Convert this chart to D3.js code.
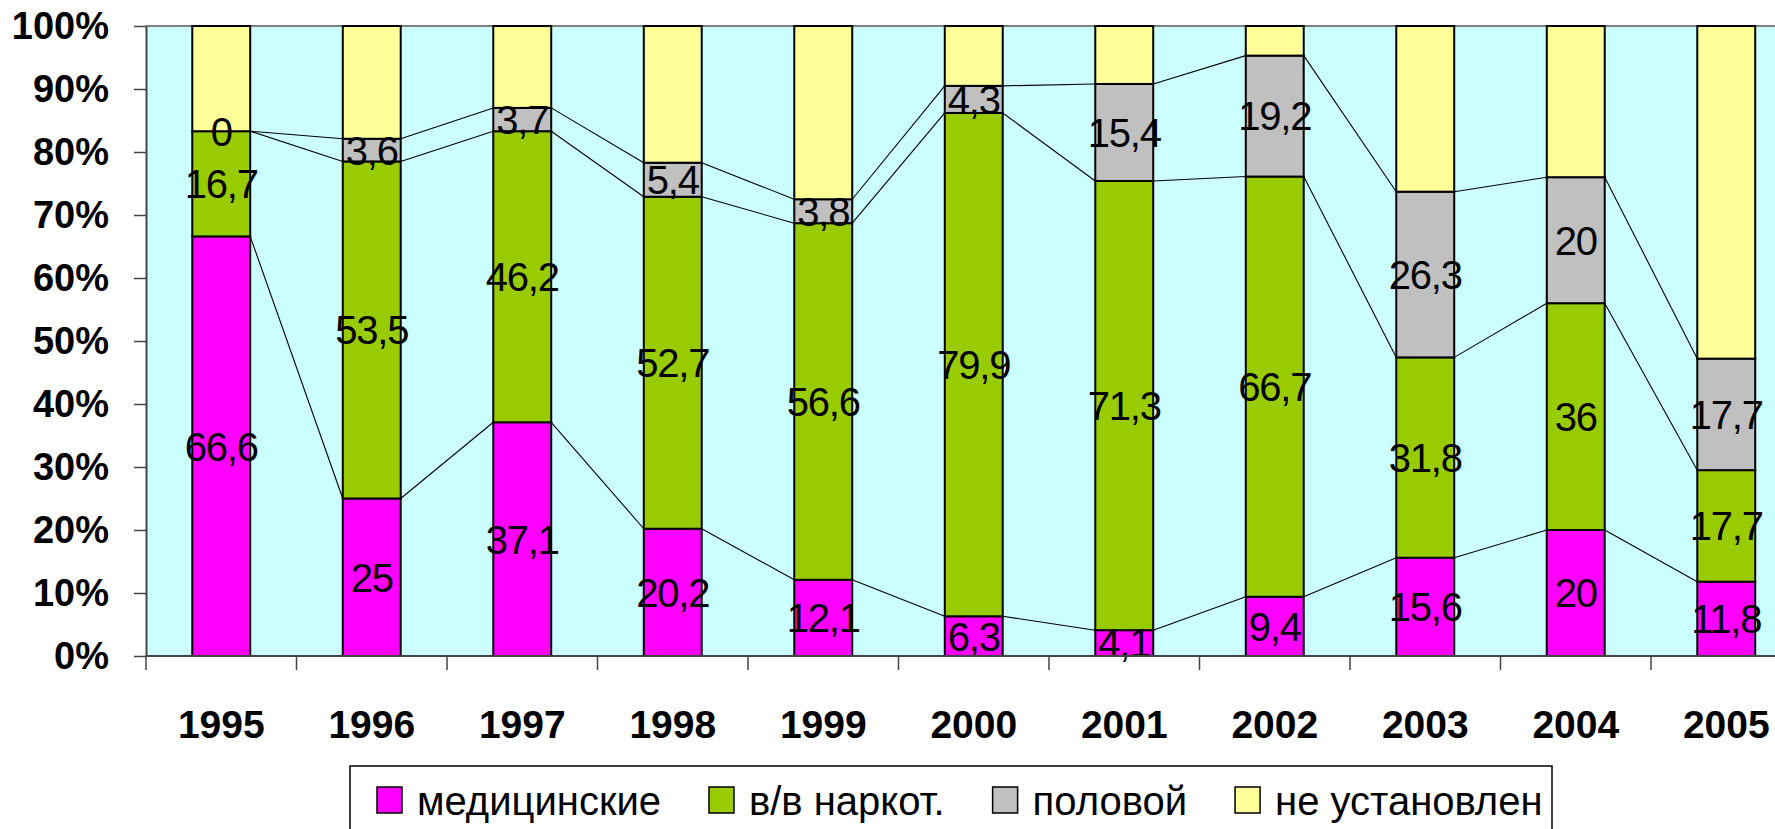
<!DOCTYPE html>
<html>
<head>
<meta charset="utf-8">
<script src="https://cdn.jsdelivr.net/npm/d3@7"></script>
<style>
  html, body { margin: 0; padding: 0; background: #ffffff; overflow: hidden; }
  svg { display: block; font-family: "Liberation Sans", Arial, sans-serif; }
</style>
</head>
<body>
<svg id="chart" width="1775" height="829"></svg>
<script>
// ---- data ----
const categories = ["1995","1996","1997","1998","1999","2000","2001","2002","2003","2004","2005"];
const seriesNames = ["медицинские","в/в наркот.","половой","не установлен"];
const medical = [66.6, 25, 37.1, 20.2, 12.1, 6.3, 4.1, 9.4, 15.6, 20, 11.8];
const ivDrugs = [16.7, 53.5, 46.2, 52.7, 56.6, 79.9, 71.3, 66.7, 31.8, 36, 17.7];
const sexual  = [0, 3.6, 3.7, 5.4, 3.8, 4.3, 15.4, 19.2, 26.3, 20, 17.7];
const unknown = [16.7, 17.9, 13.0, 21.7, 27.5, 9.5, 9.2, 4.7, 26.3, 24, 52.8];
const labelledSeries = [true, true, true, false];
const yTickValues = [0, 0.1, 0.2, 0.3, 0.4, 0.5, 0.6, 0.7, 0.8, 0.9, 1.0];
const colors = ["#FF00FF", "#99CC00", "#C0C0C0", "#FFFF99"];

// ---- layout ----
const W = 1775, H = 829;
const plotLeft = 146, plotTop = 26, plotBottom = 656;
const step = 150.5;

const svg = d3.select("#chart");

const table = categories.map((c, i) => ({
  cat: c, s0: medical[i], s1: ivDrugs[i], s2: sexual[i], s3: unknown[i]
}));
const keys = ["s0", "s1", "s2", "s3"];
const stacked = d3.stack().keys(keys).offset(d3.stackOffsetExpand)(table);

const x = d3.scaleBand()
  .domain(categories)
  .range([plotLeft, plotLeft + step * categories.length])
  .paddingInner(0.615)
  .paddingOuter(0.3075);

const y = d3.scaleLinear().domain([0, 1]).range([plotBottom, plotTop]);

// plot background
svg.append("rect")
  .attr("x", plotLeft).attr("y", plotTop)
  .attr("width", W - plotLeft + 10).attr("height", plotBottom - plotTop)
  .attr("fill", "#CCFFFF");

// top border
svg.append("line")
  .attr("x1", plotLeft).attr("x2", W)
  .attr("y1", plotTop).attr("y2", plotTop)
  .attr("stroke", "#808080").attr("stroke-width", 2);

// series lines (connecting segment tops between neighbouring bars)
const bw = x.bandwidth();
stacked.slice(0, 3).forEach(layer => {
  for (let i = 0; i < categories.length - 1; i++) {
    svg.append("line")
      .attr("x1", x(categories[i]) + bw)
      .attr("y1", y(layer[i][1]))
      .attr("x2", x(categories[i + 1]))
      .attr("y2", y(layer[i + 1][1]))
      .attr("stroke", "#000").attr("stroke-width", 1.1);
  }
});

// bars
const gBars = svg.append("g");
stacked.forEach((layer, si) => {
  gBars.append("g")
    .attr("fill", colors[si])
    .selectAll("rect")
    .data(layer)
    .join("rect")
    .attr("x", d => x(d.data.cat))
    .attr("y", d => y(d[1]))
    .attr("width", bw)
    .attr("height", d => y(d[0]) - y(d[1]))
    .attr("stroke", "#000")
    .attr("stroke-width", 2);
});

// data labels
const rawSeries = [medical, ivDrugs, sexual, unknown];
stacked.forEach((layer, si) => {
  if (!labelledSeries[si]) return;
  svg.append("g")
    .selectAll("text")
    .data(layer)
    .join("text")
    .attr("x", d => x(d.data.cat) + bw / 2)
    .attr("y", d => y((d[0] + d[1]) / 2))
    .attr("dy", "0.36em")
    .attr("text-anchor", "middle")
    .attr("font-size", 40)
    .attr("letter-spacing", -1.2)
    .attr("fill", "#000")
    .text((d, i) => String(rawSeries[si][i]).replace(".", ","));
});

// y axis
const yAxis = d3.axisLeft(y)
  .tickValues(yTickValues)
  .tickFormat(d3.format(".0%"))
  .tickSize(12)
  .tickSizeOuter(0)
  .tickPadding(25);
const gy = svg.append("g").attr("transform", `translate(${plotLeft},0)`).call(yAxis);
gy.select(".domain").attr("stroke", "#444").attr("stroke-width", 2);
gy.selectAll(".tick line").attr("stroke", "#444").attr("stroke-width", 1.5);
gy.selectAll(".tick text")
  .attr("font-size", 38).attr("font-weight", "bold").attr("fill", "#000")
  .attr("font-family", "'Liberation Sans', Arial, sans-serif");

// x axis line + tick marks at category boundaries
svg.append("line")
  .attr("x1", plotLeft).attr("x2", W)
  .attr("y1", plotBottom).attr("y2", plotBottom)
  .attr("stroke", "#444").attr("stroke-width", 2);
const boundaries = categories.map(c => x(c) - x.step() * x.paddingInner() / 2);
boundaries[0] = plotLeft;
svg.append("g").selectAll("line")
  .data(boundaries)
  .join("line")
  .attr("x1", d => d).attr("x2", d => d)
  .attr("y1", plotBottom).attr("y2", plotBottom + 14)
  .attr("stroke", "#444").attr("stroke-width", 1.5);

const xAxis = d3.axisBottom(x).tickSize(0).tickPadding(54);
const gx = svg.append("g").attr("transform", `translate(0,${plotBottom})`).call(xAxis);
gx.select(".domain").remove();
gx.selectAll(".tick text")
  .attr("font-size", 39).attr("font-weight", "bold").attr("fill", "#000")
  .attr("font-family", "'Liberation Sans', Arial, sans-serif");

// legend
const legendX = 350, legendY = 766;
const legend = svg.append("g");
legend.append("rect")
  .attr("x", legendX).attr("y", legendY)
  .attr("width", 1202).attr("height", 80)
  .attr("fill", "#fff").attr("stroke", "#000").attr("stroke-width", 1.5);
let cx = 377;
seriesNames.forEach((name, i) => {
  legend.append("rect")
    .attr("x", cx).attr("y", 787)
    .attr("width", 25).attr("height", 26)
    .attr("fill", colors[i]).attr("stroke", "#000").attr("stroke-width", 1.5);
  const t = legend.append("text")
    .attr("x", cx + 40).attr("y", 815)
    .attr("font-size", 40).attr("fill", "#000")
    .text(name);
  const w = t.node().getComputedTextLength();
  cx = cx + 40 + w + 48;
});
</script>
</body>
</html>
